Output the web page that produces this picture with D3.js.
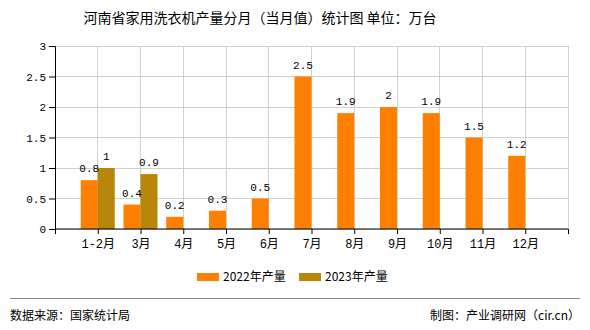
<!DOCTYPE html>
<html><head><meta charset="utf-8">
<script src="https://cdn.jsdelivr.net/npm/d3@7"></script>
<style>body{margin:0;background:#fff}svg{display:block}</style>
</head><body>
<svg id="c" width="590" height="330"></svg>
<script>
const categories = ["1-2月","3月","4月","5月","6月","7月","8月","9月","10月","11月","12月"];
const series2022 = [0.8,0.4,0.2,0.3,0.5,2.5,1.9,2,1.9,1.5,1.2];
const series2023 = [1,0.9,null,null,null,null,null,null,null,null,null];
const yTicks = [0,0.5,1,1.5,2,2.5,3];
const seriesNames = ["2022年产量","2023年产量"];
const colors = ["#ff8000","#b8860b"];

const svg = d3.select("#c");
const L = 55, R = 568, T = 46, B = 229;
const x = d3.scaleLinear().domain([-1, categories.length]).range([L, R]);
const y = d3.scaleLinear().domain([0, 3]).range([B, T]);
const bw = 17;
const mono = "'Liberation Mono','DejaVu Sans Mono','Noto Sans CJK SC',monospace";
const cjk = "'Noto Sans CJK SC','Noto Sans',sans-serif";

// title
svg.append("text").attr("x", 260).attr("y", 23).attr("text-anchor","middle")
  .attr("font-family", cjk).attr("font-size", 14).attr("fill","#000")
  .text("河南省家用洗衣机产量分月（当月值）统计图 单位：万台");

// grid
const g = svg.append("g");
g.selectAll(".hg").data(yTicks).join("line")
  .attr("x1", L).attr("x2", R).attr("y1", d=>y(d)).attr("y2", d=>y(d))
  .attr("stroke","#d0d0d0").attr("stroke-width",1).attr("shape-rendering","crispEdges");
const vIdx = d3.range(categories.length + 1);
g.selectAll(".vg").data(vIdx).join("line")
  .attr("x1", d=>x(d)).attr("x2", d=>x(d)).attr("y1", T).attr("y2", B)
  .attr("stroke","#d0d0d0").attr("stroke-width",1).attr("shape-rendering","crispEdges");

// bars
const bars = svg.append("g");
bars.selectAll(".b22").data(series2022).join("rect")
  .attr("x",(d,i)=>x(i)-bw).attr("width",bw)
  .attr("y",d=>y(d)).attr("height",d=>B-y(d)).attr("fill",colors[0]);
const s23 = series2023.map((v,i)=>({v,i})).filter(d=>d.v!=null);
bars.selectAll(".b23").data(s23).join("rect")
  .attr("x",d=>x(d.i)).attr("width",bw)
  .attr("y",d=>y(d.v)).attr("height",d=>B-y(d.v)).attr("fill",colors[1]);

// value labels
const lab = svg.append("g").attr("font-family", mono).attr("font-size", 11).attr("fill","#000").attr("text-anchor","middle");
lab.selectAll(".l22").data(series2022).join("text")
  .attr("x",(d,i)=>x(i)-bw/2).attr("y",d=>y(d)-8).text(d=>d);
lab.selectAll(".l23").data(s23).join("text")
  .attr("x",d=>x(d.i)+bw/2).attr("y",d=>y(d.v)-8).text(d=>d.v);

// axes
const yAxis = d3.axisLeft(y).tickValues(yTicks).tickSize(6).tickPadding(3).tickFormat(d=>d);
const ya = svg.append("g").attr("transform",`translate(${L},0)`).call(yAxis);
ya.selectAll("text").attr("font-family", mono).attr("font-size", 11).attr("fill","#000");
ya.select(".domain").attr("stroke","#000");
ya.selectAll(".tick line").attr("stroke","#000");

const xAxis = d3.axisBottom(x).tickValues(d3.range(-1, categories.length+1)).tickSize(5).tickPadding(5)
  .tickFormat(i => (i>=0 && i<categories.length) ? categories[i] : "");
const xa = svg.append("g").attr("transform",`translate(0,${B})`).call(xAxis);
xa.selectAll("text").attr("font-family", mono).attr("font-size", 12).attr("fill","#000");
xa.select(".domain").attr("stroke","#000").attr("d", `M${L},0H${R}`);
xa.selectAll(".tick line").attr("stroke","#000");

// legend
const lg = svg.append("g");
const lx = [197, 299];
seriesNames.forEach((n,k)=>{
  lg.append("rect").attr("x",lx[k]).attr("y",273).attr("width",22).attr("height",8).attr("fill",colors[k]);
  lg.append("text").attr("x",lx[k]+26).attr("y",281).attr("font-family",cjk).attr("font-size",12).attr("fill","#000").text(n);
});

// footer
svg.append("line").attr("x1",10).attr("x2",580).attr("y1",298.5).attr("y2",298.5).attr("stroke","#888").attr("stroke-width",1);
svg.append("text").attr("x",10).attr("y",320).attr("font-family",cjk).attr("font-size",12).attr("fill","#000").text("数据来源：国家统计局");
svg.append("text").attr("x",580).attr("y",320).attr("text-anchor","end").attr("font-family",cjk).attr("font-size",12).attr("fill","#000").text("制图：产业调研网（cir.cn）");
</script>
</body></html>
